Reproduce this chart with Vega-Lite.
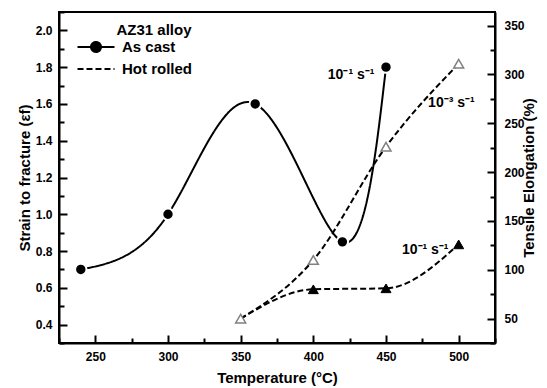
{
  "$schema": "https://vega.github.io/schema/vega-lite/v6.json",
  "width": 436,
  "height": 331,
  "autosize": {"type": "none"},
  "padding": {"left": 59, "top": 12, "right": 52, "bottom": 45},
  "background": "white",
  "config": {
    "view": {"stroke": "black", "strokeWidth": 2},
    "font": "Liberation Sans",
    "axis": {
      "domainColor": "black", "domainWidth": 2, "tickColor": "black", "tickWidth": 2, "grid": false,
      "labelFont": "Liberation Sans", "labelFontWeight": "bold", "labelFontSize": 12, "labelColor": "black",
      "titleFont": "Liberation Sans", "titleFontWeight": "bold", "titleFontSize": 15, "titleColor": "black",
      "labelOverlap": false, "labelFlush": false
    }
  },
  "datasets": {
    "cast": [
      {"process": "As cast", "rate": "10⁻¹ s⁻¹", "temp": 240, "strain": 0.70},
      {"process": "As cast", "rate": "10⁻¹ s⁻¹", "temp": 300, "strain": 1.00},
      {"process": "As cast", "rate": "10⁻¹ s⁻¹", "temp": 360, "strain": 1.60},
      {"process": "As cast", "rate": "10⁻¹ s⁻¹", "temp": 420, "strain": 0.85},
      {"process": "As cast", "rate": "10⁻¹ s⁻¹", "temp": 450, "strain": 1.80}
    ],
    "rolled": [
      {"process": "Hot rolled", "rate": "10⁻³ s⁻¹", "temp": 350, "elongation": 50},
      {"process": "Hot rolled", "rate": "10⁻³ s⁻¹", "temp": 400, "elongation": 110},
      {"process": "Hot rolled", "rate": "10⁻³ s⁻¹", "temp": 450, "elongation": 226},
      {"process": "Hot rolled", "rate": "10⁻³ s⁻¹", "temp": 500, "elongation": 311},
      {"process": "Hot rolled", "rate": "10⁻¹ s⁻¹", "temp": 350, "elongation": 50},
      {"process": "Hot rolled", "rate": "10⁻¹ s⁻¹", "temp": 400, "elongation": 80},
      {"process": "Hot rolled", "rate": "10⁻¹ s⁻¹", "temp": 450, "elongation": 81},
      {"process": "Hot rolled", "rate": "10⁻¹ s⁻¹", "temp": 500, "elongation": 126}
    ],
    "notes": [
      {"label": "10⁻¹ s⁻¹", "temp": 426, "strain": 1.757},
      {"label": "10⁻³ s⁻¹", "temp": 495, "strain": 1.605},
      {"label": "10⁻¹ s⁻¹", "temp": 477, "strain": 0.807}
    ]
  },
  "encoding": {
    "x": {
      "field": "temp", "type": "quantitative",
      "scale": {"domain": [225, 525], "nice": false, "zero": false},
      "axis": {
        "title": "Temperature (°C)",
        "values": [225, 250, 275, 300, 325, 350, 375, 400, 425, 450, 475, 500, 525],
        "format": "d",
        "labelExpr": "datum.value % 50 == 0 ? datum.label : ''",
        "tickSize": {"condition": {"test": "datum.value % 50 == 0", "value": -8}, "value": -5},
        "labelPadding": 16,
        "titlePadding": 5
      }
    }
  },
  "layer": [
    {
      "data": {"name": "cast"},
      "encoding": {
        "y": {
          "field": "strain", "type": "quantitative",
          "scale": {"domain": [0.3, 2.1], "nice": false, "zero": false},
          "axis": {
            "title": "Strain to fracture (εf)",
            "orient": "left",
            "values": [0.3, 0.4, 0.5, 0.6, 0.7, 0.8, 0.9, 1.0, 1.1, 1.2, 1.3, 1.4, 1.5, 1.6, 1.7, 1.8, 1.9, 2.0, 2.1],
            "labelExpr": "round(datum.value*10) % 2 == 0 ? format(datum.value, '.1f') : ''",
            "tickSize": {"condition": {"test": "round(datum.value*10) % 2 == 0", "value": -8}, "value": -5},
            "labelPadding": 15,
            "titlePadding": 3
          }
        }
      },
      "layer": [
        {
          "mark": {"type": "line", "interpolate": "natural", "color": "black", "strokeWidth": 2},
          "encoding": {
            "strokeDash": {
              "field": "process", "type": "nominal",
              "scale": {"domain": ["As cast", "Hot rolled"], "range": [[1, 0], [6, 3]]},
              "legend": {
                "title": "AZ31 alloy", "orient": "none", "legendX": 29.5, "legendY": 10.5,
                "titleAnchor": "end", "titleFontSize": 15, "titleFontWeight": "bold", "titleFont": "Liberation Sans", "titleColor": "black", "titlePadding": 2,
                "labelFontSize": 15, "labelFontWeight": "bold", "labelFont": "Liberation Sans", "labelColor": "black",
                "labelOffset": 18.5, "rowPadding": 5, "symbolSize": 100, "symbolStrokeWidth": 2,
                "symbolStrokeColor": "black", "symbolFillColor": "black", "padding": 0,
                "encode": {
                  "symbols": {
                    "update": {
                      "shape": [
                        {"test": "datum.value === 'As cast'", "value": "M-3.7,0H3.7M-1.0,0A1.0,1.0,0,1,1,1.0,0A1.0,1.0,0,1,1,-1.0,0"},
                        {"value": "M-3.7,0H3.7"}
                      ],
                      "fill": {"value": "black"},
                      "stroke": {"value": "black"}
                    }
                  }
                }
              }
            }
          }
        },
        {
          "mark": {"type": "point", "shape": "circle", "filled": true, "size": 130, "fill": "black", "stroke": "white", "strokeWidth": 2, "opacity": 1}
        },
        {
          "data": {"name": "notes"},
          "mark": {"type": "text", "font": "Liberation Sans", "fontWeight": "bold", "fontSize": 14, "color": "black"},
          "encoding": {"text": {"field": "label"}}
        }
      ]
    },
    {
      "data": {"name": "rolled"},
      "encoding": {
        "y": {
          "field": "elongation", "type": "quantitative",
          "scale": {"domain": [25, 364], "nice": false, "zero": false},
          "axis": {
            "title": "Tensile Elongation (%)",
            "orient": "right",
            "titleAngle": 270,
            "titleBaseline": "middle",
            "titleAlign": "center",
            "titleX": 33,
            "titleY": 165.5,
            "values": [25, 50, 75, 100, 125, 150, 175, 200, 225, 250, 275, 300, 325, 350],
            "format": "d",
            "labelExpr": "datum.value % 50 == 0 ? datum.label : ''",
            "tickSize": {"condition": {"test": "datum.value % 50 == 0", "value": -8}, "value": -5},
            "labelPadding": 17
          }
        }
      },
      "layer": [
        {
          "mark": {"type": "line", "interpolate": "monotone", "color": "black", "strokeWidth": 2},
          "encoding": {
            "strokeDash": {"field": "process", "type": "nominal"},
            "detail": {"field": "rate"}
          }
        },
        {
          "transform": [{"filter": "datum.rate === '10⁻³ s⁻¹'"}],
          "mark": {"type": "point", "shape": "triangle-up", "filled": true, "fill": "white", "stroke": "#808080", "strokeWidth": 1.5, "size": 100, "opacity": 1}
        },
        {
          "transform": [{"filter": "datum.rate === '10⁻¹ s⁻¹' && datum.temp > 350"}],
          "mark": {"type": "point", "shape": "triangle-up", "filled": true, "fill": "black", "stroke": "black", "strokeWidth": 1, "size": 100, "opacity": 1}
        }
      ]
    }
  ],
  "resolve": {"scale": {"y": "independent"}}
}
